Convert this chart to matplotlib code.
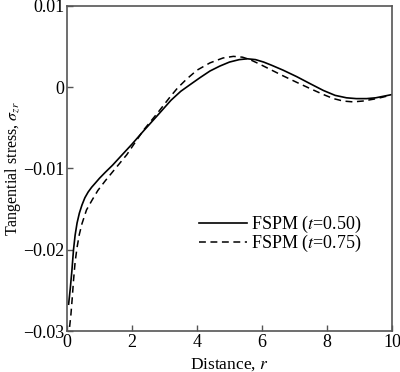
import matplotlib
matplotlib.use('Agg')
import matplotlib.pyplot as plt

# FSPM, t = 0.50 (solid)
r_050 = [0.05, 0.10, 0.15, 0.20, 0.25, 0.31, 0.38, 0.46, 0.55, 0.65, 0.76, 0.87, 1.00, 1.17,
         1.40, 1.63, 2.00, 2.35, 2.80, 3.20, 3.50, 3.78, 4.10, 4.40, 4.70, 5.00, 5.30, 5.55,
         5.80, 6.05, 6.30, 6.65, 7.07, 7.50, 7.89, 8.25, 8.60, 8.90, 9.22, 9.50, 9.75, 10.0]
s_050 = [-0.0267, -0.0248, -0.0226, -0.0200, -0.0182, -0.0167, -0.0155, -0.0145, -0.0136, -0.0129,
         -0.0123, -0.0118, -0.0112, -0.0105, -0.0096, -0.0086, -0.0070, -0.0054, -0.0034, -0.0016,
         -0.0005, 0.0003, 0.0012, 0.0020, 0.0026, 0.0031, 0.0034, 0.0035, 0.0034, 0.0031,
         0.0027, 0.0021, 0.0013, 0.0004, -0.0004, -0.0010, -0.0013, -0.0014, -0.0014, -0.0013,
         -0.0011, -0.0009]

# FSPM, t = 0.75 (dashed)
r_075 = [0.08, 0.12, 0.16, 0.20, 0.25, 0.31, 0.38, 0.46, 0.60, 0.77, 0.95, 1.18, 1.53, 1.84,
         2.35, 2.80, 3.17, 3.40, 3.68, 4.00, 4.40, 4.80, 5.12, 5.40, 5.63, 5.90, 6.25, 6.65,
         7.07, 7.50, 7.89, 8.20, 8.50, 8.80, 9.10, 9.53, 9.94]
s_075 = [-0.0295, -0.0280, -0.0260, -0.0238, -0.0215, -0.0197, -0.0181, -0.0168, -0.0151, -0.0139,
         -0.0127, -0.0115, -0.0098, -0.0083, -0.0053, -0.0031, -0.0012, -0.0001, 0.0010, 0.0021,
         0.0030, 0.0036, 0.0038, 0.0037, 0.0034, 0.0029, 0.0022, 0.0014, 0.0006, -0.0002,
         -0.0009, -0.0014, -0.0017, -0.0018, -0.0017, -0.0014, -0.0010]

x_ticks = [0, 2, 4, 6, 8, 10]
y_ticks = [-0.03, -0.02, -0.01, 0, 0.01]
y_ticklabels = ['\u22120.03', '\u22120.02', '\u22120.01', '0', '0.01']

plt.rcParams['font.family'] = ['Liberation Serif', 'DejaVu Serif']
plt.rcParams['mathtext.fontset'] = 'stix'

fig = plt.figure(figsize=(4.0, 3.72), dpi=100)
ax = fig.add_axes([0.1675, 0.1102, 0.8125, 0.8737])

ax.plot(r_050, s_050, color='black', lw=1.2, label='FSPM ($t$=0.50)')
ax.plot(r_075, s_075, color='black', lw=1.1, dashes=(4.5, 3), label='FSPM ($t$=0.75)')

ax.set_xlim(0, 10)
ax.set_ylim(-0.03, 0.01)
ax.set_xticks(x_ticks)
ax.set_xticklabels([str(t) for t in x_ticks])
ax.set_yticks(y_ticks)
ax.set_yticklabels(y_ticklabels)
ax.tick_params(direction='in', length=4, width=1, color='#555555', pad=2, labelsize=13)

for sp in ax.spines.values():
    sp.set_color('#555555')
    sp.set_linewidth(1.2)

ax.set_xlabel('Distance, $r$', fontsize=12.5, labelpad=4)
ax.set_ylabel('Tangential stress, $\\sigma_{zr}$', fontsize=11.5, labelpad=0)

ax.legend(loc='upper left', bbox_to_anchor=(0.405, 0.36), frameon=False, fontsize=13,
          handlelength=2.7, handletextpad=0.2, borderaxespad=0, borderpad=0,
          labelspacing=-0.1)

fig.savefig('out.png', dpi=100)
